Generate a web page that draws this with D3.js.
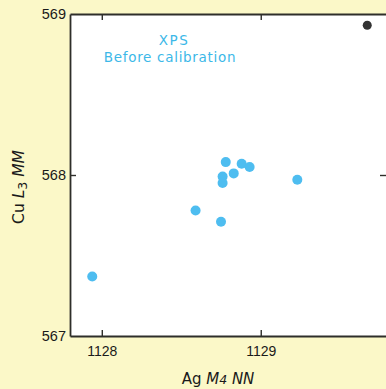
<!DOCTYPE html>
<html><head><meta charset="utf-8">
<script src="https://cdn.jsdelivr.net/npm/d3@7/dist/d3.min.js"></script>
<style>
html,body{margin:0;padding:0;background:#fbf8c8;}
svg{display:block;}
</style></head>
<body>
<svg id="chart" width="386" height="389"></svg>
<script>
const agX = [1127.94, 1128.59, 1128.75, 1128.76, 1128.76, 1128.78, 1128.83, 1128.88, 1128.93, 1129.23];
const cuY = [567.37, 567.78, 567.71, 567.95, 567.99, 568.08, 568.01, 568.07, 568.05, 567.97];
const refX = [1129.67];
const refY = [568.93];
const xTicks = [1128, 1129];
const yTicks = [567, 568, 569];

const svg = d3.select("#chart");
const L = 70, R = 386, T = 14, B = 336;
const x = d3.scaleLinear().domain([1127.8, 1129.788]).range([L, R]);
const y = d3.scaleLinear().domain([567, 569]).range([B, T]);

svg.append("rect").attr("width",386).attr("height",389).attr("fill","#fbf8c8");
svg.append("rect").attr("x",L).attr("y",T).attr("width",R-L).attr("height",B-T).attr("fill","#ffffff");

const axisCol = "#2e2e2a";
const gBottom = svg.append("g").attr("transform",`translate(0,${B})`)
  .call(d3.axisBottom(x).tickValues(xTicks).tickSizeInner(-6).tickSizeOuter(0).tickPadding(10).tickFormat(d3.format("d")));
const gTop = svg.append("g").attr("transform",`translate(0,${T})`)
  .call(d3.axisTop(x).tickValues(xTicks).tickSizeInner(-6).tickSizeOuter(0).tickFormat(""));
const gLeft = svg.append("g").attr("transform",`translate(${L},0)`)
  .call(d3.axisLeft(y).tickValues([568]).tickSizeInner(-6).tickSizeOuter(0).tickFormat(""));
const gRight = svg.append("g").attr("transform",`translate(${R},0)`)
  .call(d3.axisRight(y).tickValues([568]).tickSizeInner(-6).tickSizeOuter(0).tickFormat(""));
[gBottom,gTop,gLeft,gRight].forEach(g=>{
  g.select(".domain").attr("stroke",axisCol).attr("stroke-width",1.8);
  g.selectAll(".tick line").attr("stroke",axisCol).attr("stroke-width",1.4);
});
gRight.select(".domain").attr("stroke","none");
gBottom.selectAll(".tick text").attr("font-family","Liberation Sans, Arial, sans-serif").attr("font-size",14).attr("fill","#1a1a1a");

svg.append("g").selectAll("text").data(yTicks).join("text")
  .attr("x", L-4).attr("y", d=>y(d)).attr("dy","0.35em")
  .attr("text-anchor","end")
  .attr("font-family","Liberation Sans, Arial, sans-serif").attr("font-size",14.5).attr("fill","#1a1a1a")
  .text(d=>d);

const pts = agX.map((v,i)=>({x:v,y:cuY[i]}));
svg.append("g").selectAll("circle").data(pts).join("circle")
  .attr("cx",d=>x(d.x)).attr("cy",d=>y(d.y)).attr("r",5).attr("fill","#4ebdf0");
svg.append("g").selectAll("circle").data(refX.map((v,i)=>({x:v,y:refY[i]}))).join("circle")
  .attr("cx",d=>x(d.x)).attr("cy",d=>y(d.y)).attr("r",4.5).attr("fill","#333333");

const ann = svg.append("g").attr("font-family","DejaVu Sans, sans-serif").attr("font-size",13.5).attr("fill","#3cb8e8").attr("text-anchor","middle");
ann.append("text").attr("x",174).attr("y",45).attr("letter-spacing",1.5).text("XPS");
ann.append("text").attr("x",170).attr("y",62).attr("letter-spacing",0.7).text("Before calibration");

const xl = svg.append("text").attr("x",218).attr("y",384).attr("text-anchor","middle")
  .attr("font-family","DejaVu Sans, sans-serif").attr("font-size",15).attr("fill","#1a1a1a");
xl.append("tspan").text("Ag ");
xl.append("tspan").attr("font-style","italic").text("M");
xl.append("tspan").attr("font-style","italic").attr("font-size",12.5).text("4");
xl.append("tspan").attr("font-style","italic").text(" NN");

const yl = svg.append("text").attr("transform","translate(24,187) rotate(-90)").attr("text-anchor","middle")
  .attr("font-family","DejaVu Sans, sans-serif").attr("font-size",15.5).attr("fill","#1a1a1a");
yl.append("tspan").text("Cu ");
yl.append("tspan").attr("font-style","italic").text("L");
yl.append("tspan").attr("font-size",12.5).attr("dy",3).text("3");
yl.append("tspan").attr("font-style","italic").attr("dy",-3).text(" MM");
</script>
</body></html>
